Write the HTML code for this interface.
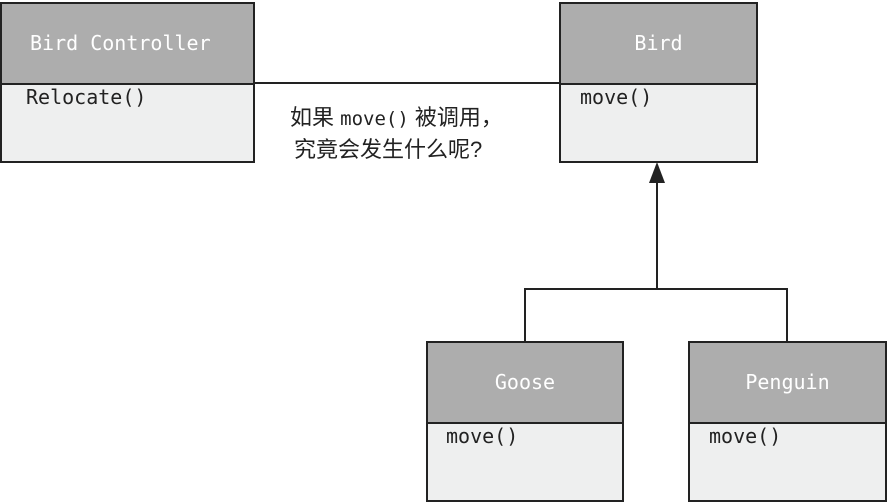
<!DOCTYPE html>
<html><head><meta charset="utf-8"><style>
body{margin:0;width:888px;height:503px;background:#fff;position:relative;overflow:hidden}
.box{position:absolute;border:2px solid #222;box-sizing:border-box;background:#eeefef}
.hd{position:absolute;left:0;right:0;top:0;height:79px;background:#adadad;border-bottom:2px solid #222;color:#fff;font:20px "DejaVu Sans Mono","Liberation Mono",monospace;text-align:center;line-height:79px}
.bd{position:absolute;left:24px;top:81px;height:78px;line-height:78px;color:#222;font:20px "DejaVu Sans Mono","Liberation Mono",monospace}
.t{position:absolute;font:22px "Liberation Sans","Noto Sans CJK SC",sans-serif;color:#222;white-space:nowrap}
.m{font-family:"DejaVu Sans Mono","Liberation Mono",monospace;font-size:19px}
</style></head><body>
<svg width="888" height="503" style="position:absolute;left:0;top:0">
<g stroke="#222" stroke-width="2" fill="none">
<line x1="254" y1="83" x2="559" y2="83"/>
<line x1="657" y1="180" x2="657" y2="289"/>
<polyline points="525,341 525,289 787,289 787,341"/>
</g>
<polygon points="657,162 649,183 665,183" fill="#222"/>
</svg>
<div class="box" style="left:0;top:2px;width:255px;height:161px"><div class="hd" style="text-align:left;padding-left:28px">Bird Controller</div><div class="bd">Relocate()</div></div>
<div class="box" style="left:559px;top:2px;width:199px;height:161px"><div class="hd">Bird</div><div class="bd" style="left:19px">move()</div></div>
<div class="box" style="left:426px;top:341px;width:198px;height:161px"><div class="hd">Goose</div><div class="bd" style="left:18px">move()</div></div>
<div class="box" style="left:688px;top:341px;width:199px;height:161px"><div class="hd">Penguin</div><div class="bd" style="left:19px">move()</div></div>
<div class="t" style="left:290px;top:100px">如果 <span class="m">move()</span> 被调用，</div>
<div class="t" style="left:294px;top:132px">究竟会发生什么呢?</div>
</body></html>
